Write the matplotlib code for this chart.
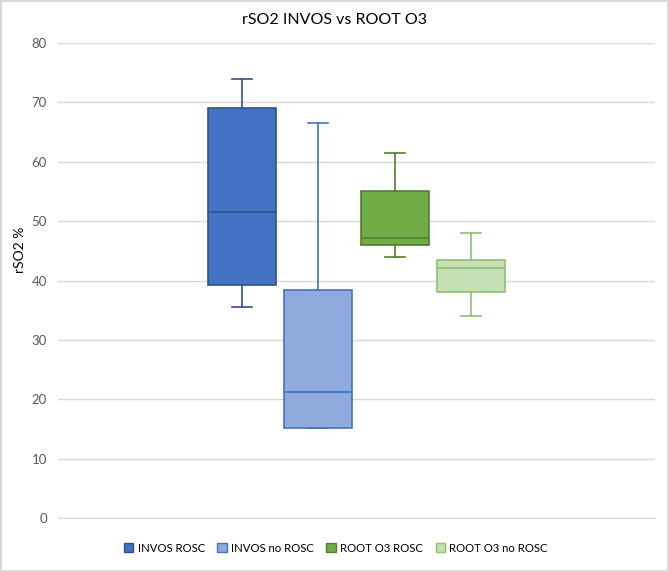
import matplotlib
matplotlib.use("Agg")
import matplotlib.pyplot as plt
from matplotlib.patches import Patch

plt.rcParams['font.family'] = ['Lato', 'DejaVu Sans']

series = ["INVOS ROSC", "INVOS no ROSC", "ROOT O3 ROSC", "ROOT O3 no ROSC"]
whislo = [35.5, 15.2, 43.9, 34.0]
q1 = [39.2, 15.2, 46.0, 38.0]
med = [51.5, 21.2, 47.2, 42.1]
q3 = [69.0, 38.4, 55.0, 43.4]
whishi = [74.0, 66.5, 61.4, 48.0]
yticks = [0, 10, 20, 30, 40, 50, 60, 70, 80]

faces = ["#4472C4", "#8FAADC", "#70AD47", "#C5E0B4"]
edges = ["#2F528F", "#4472C4", "#507E32", "#8FC16E"]

fig = plt.figure(figsize=(6.69, 5.72), dpi=100)
fig.patch.set_edgecolor("#D9D9D9")
fig.patch.set_linewidth(1.5)
ax = fig.add_axes([58/669, 1-518/572, (655-58)/669, (518-43)/572])

positions = [0.5 + (i - 1.5) * 0.1275 for i in range(4)]
for i in range(4):
    st = [dict(whislo=whislo[i], q1=q1[i], med=med[i], q3=q3[i], whishi=whishi[i], fliers=[])]
    ax.bxp(st, positions=[positions[i]], widths=0.114, patch_artist=True,
           showfliers=False, manage_ticks=False,
           boxprops=dict(facecolor=faces[i], edgecolor=edges[i], linewidth=1.2),
           medianprops=dict(color=edges[i], linewidth=1.2),
           whiskerprops=dict(color=edges[i], linewidth=1.2),
           capprops=dict(color=edges[i], linewidth=1.2),
           capwidths=0.0335)

ax.set_xlim(0, 1)
ax.set_ylim(0, 80)
ax.set_yticks(yticks)
ax.set_xticks([])
ax.yaxis.grid(True, color="#D9D9D9", linewidth=1)
ax.set_axisbelow(True)
for s in ["top", "right", "left"]:
    ax.spines[s].set_visible(False)
ax.spines["bottom"].set_color("#D9D9D9")
ax.tick_params(axis="y", length=0, labelsize=9.5, labelcolor="#595959", pad=8)
ax.set_ylabel("rSO2 %", fontsize=10, color="#000000")
ax.yaxis.set_label_coords(-0.054, 0.564)

fig.text(0.5, 1 - 20/572, "rSO2 INVOS vs ROOT O3", ha="center", va="center",
         fontsize=11.5, color="#000000")

handles = [Patch(facecolor=faces[i], edgecolor=edges[i], label=series[i]) for i in range(4)]
fig.legend(handles=handles, loc="center", bbox_to_anchor=(0.502, 1 - 548/572), ncol=4,
           frameon=False, fontsize=8.2, handlelength=0.8, handleheight=0.8,
           handletextpad=0.4, columnspacing=1.1, labelcolor="#000000")

fig.savefig("out.png", dpi=100)
